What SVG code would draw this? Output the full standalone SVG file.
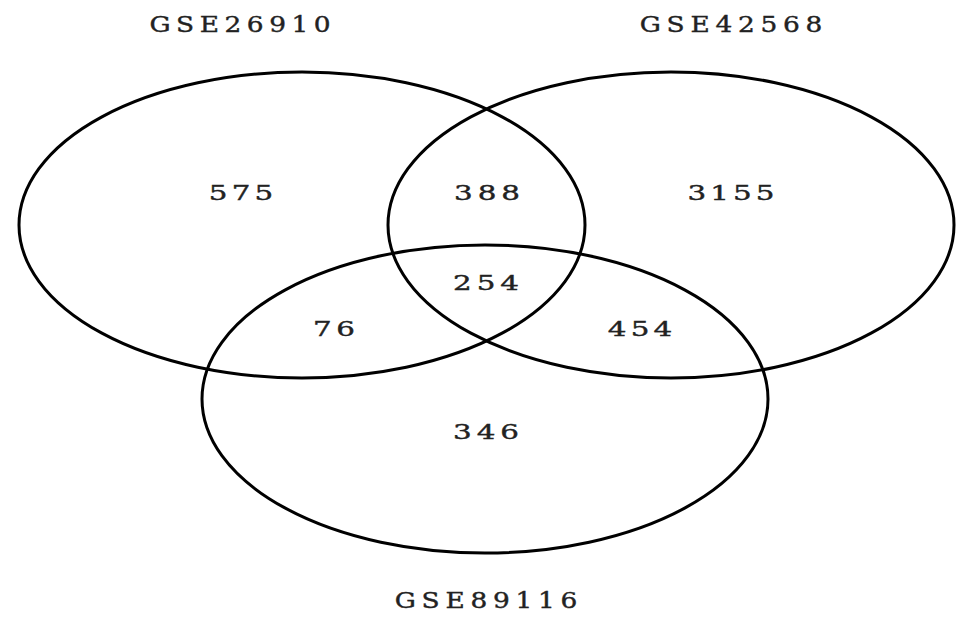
<svg xmlns="http://www.w3.org/2000/svg" width="969" height="624" viewBox="0 0 969 624">
<style>
.set{fill:none;stroke:#000;stroke-width:3}
.lbl{font-family:"DejaVu Serif","Liberation Serif",serif;font-size:22px;fill:#222;stroke:#222;stroke-width:0.4;text-anchor:middle}
.num{font-family:"DejaVu Serif","Liberation Serif",serif;font-size:21px;fill:#222;stroke:#222;stroke-width:0.4;text-anchor:middle}
</style>
<rect width="969" height="624" fill="#fff"/>
<g id="set-GSE26910">
<ellipse class="set" cx="302" cy="225" rx="283" ry="153"/>
<text class="lbl" transform="translate(240,32) scale(1.2,1)" textLength="151" lengthAdjust="spacing">GSE26910</text>
</g>
<g id="set-GSE42568">
<ellipse class="set" cx="671" cy="225" rx="283" ry="153"/>
<text class="lbl" transform="translate(731,32) scale(1.2,1)" textLength="152" lengthAdjust="spacing">GSE42568</text>
</g>
<g id="set-GSE89116">
<ellipse class="set" cx="485" cy="399" rx="283" ry="154"/>
<text class="lbl" transform="translate(486,608) scale(1.2,1)" textLength="152" lengthAdjust="spacing">GSE89116</text>
</g>
<g id="counts">
<text class="num" transform="translate(241,200) scale(1.4,1)" textLength="46" lengthAdjust="spacing">575</text>
<text class="num" transform="translate(487,200) scale(1.4,1)" textLength="47" lengthAdjust="spacing">388</text>
<text class="num" transform="translate(731,200) scale(1.4,1)" textLength="62" lengthAdjust="spacing">3155</text>
<text class="num" transform="translate(486,290) scale(1.4,1)" textLength="47" lengthAdjust="spacing">254</text>
<text class="num" transform="translate(334,336) scale(1.4,1)" textLength="30" lengthAdjust="spacing">76</text>
<text class="num" transform="translate(640,336) scale(1.4,1)" textLength="46" lengthAdjust="spacing">454</text>
<text class="num" transform="translate(486,439) scale(1.4,1)" textLength="47" lengthAdjust="spacing">346</text>
</g>
</svg>
